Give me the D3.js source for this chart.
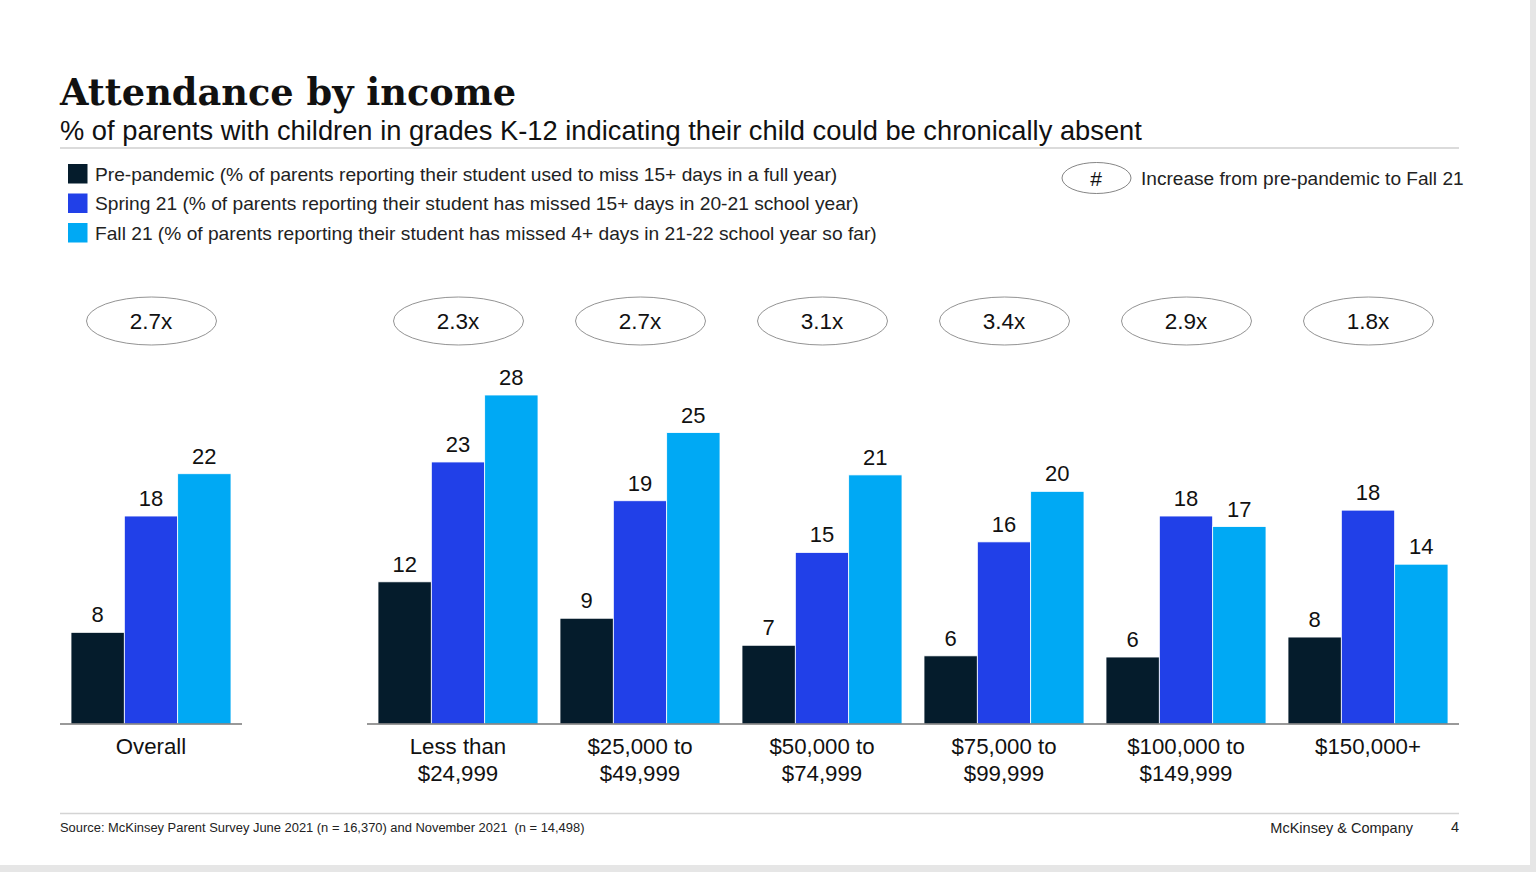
<!DOCTYPE html>
<html>
<head>
<meta charset="utf-8">
<title>Attendance by income</title>
<script src="https://d3js.org/d3.v7.min.js"></script>
<style>
    html, body { margin: 0; padding: 0; background: #e6e6e6; overflow: hidden; }
    svg { display: block; font-family: "Liberation Sans", Arial, sans-serif; fill: #111; }
</style>
</head>
<body>
<svg id="chart" width="1536" height="872"></svg>
<script>
const seriesNames = ["Pre-pandemic", "Spring 21", "Fall 21"];
const seriesColors = ["#051c2c", "#2140e8", "#00a9f4"];
const legendLabels = [
    "Pre-pandemic (% of parents reporting their student used to miss 15+ days in a full year)",
    "Spring 21 (% of parents reporting their student has missed 15+ days in 20-21 school year)",
    "Fall 21 (% of parents reporting their student has missed 4+ days in 21-22 school year so far)"
];

const overallCategory = [["Overall"]];
const incomeCategories = [
    ["Less than", "$24,999"],
    ["$25,000 to", "$49,999"],
    ["$50,000 to", "$74,999"],
    ["$75,000 to", "$99,999"],
    ["$100,000 to", "$149,999"],
    ["$150,000+"]
];

// bar heights, the printed labels are rounded differently in places
const overallValues = [[7.8, 17.7, 21.3]];
const incomeValues = [
    [12.1, 22.3, 28.0],
    [9.0, 19.0, 24.8],
    [6.7, 14.6, 21.2],
    [5.8, 15.5, 19.8],
    [5.7, 17.7, 16.8],
    [7.4, 18.2, 13.6]
];
const overallLabels = [[8, 18, 22]];
const incomeLabels = [
    [12, 23, 28],
    [9, 19, 25],
    [7, 15, 21],
    [6, 16, 20],
    [6, 18, 17],
    [8, 18, 14]
];
const overallIncrease = ["2.7x"];
const incomeIncrease = ["2.3x", "2.7x", "3.1x", "3.4x", "2.9x", "1.8x"];

const svg = d3.select("#chart");
const baseline = 724;

// slide background
svg.append("rect").attr("width", 1530).attr("height", 865).attr("fill", "#fff");

const y = d3.scaleLinear().domain([0, 30]).range([baseline, baseline - 352.5]);
const inner = d3.scaleBand().domain(d3.range(3)).range([-80, 80]);

// Title block
svg.append("text")
    .attr("x", 60).attr("y", 105)
    .attr("font-family", "'DejaVu Serif', Georgia, serif")
    .attr("font-weight", "bold")
    .attr("font-size", 38)
    .attr("textLength", 456)
    .attr("lengthAdjust", "spacingAndGlyphs")
    .text("Attendance by income");

svg.append("text")
    .attr("x", 60).attr("y", 140)
    .attr("font-size", 27.3)
    .text("% of parents with children in grades K-12 indicating their child could be chronically absent");

svg.append("line")
    .attr("x1", 60).attr("x2", 1459).attr("y1", 148).attr("y2", 148)
    .attr("stroke", "#cfcfcf").attr("stroke-width", 1.5);

// Legend
const legend = svg.selectAll(".legend")
    .data(legendLabels)
    .join("g")
    .attr("class", "legend")
    .attr("transform", (d, i) => `translate(68, ${164 + i * 29.5})`);

legend.append("rect")
    .attr("width", 19.5).attr("height", 19.5)
    .attr("fill", (d, i) => seriesColors[i]);

legend.append("text")
    .attr("x", 27).attr("y", 16.8)
    .attr("font-size", 19.18)
    .attr("fill", "#222")
    .text(d => d);

// Key for the ovals
svg.append("ellipse")
    .attr("cx", 1096.5).attr("cy", 178).attr("rx", 34.5).attr("ry", 15.5)
    .attr("fill", "#fff").attr("stroke", "#666").attr("stroke-width", 0.8);
svg.append("text")
    .attr("x", 1096).attr("y", 185.5)
    .attr("text-anchor", "middle").attr("font-size", 21)
    .text("#");
svg.append("text")
    .attr("x", 1141).attr("y", 185)
    .attr("font-size", 19.1)
    .attr("fill", "#222")
    .text("Increase from pre-pandemic to Fall 21");

// One panel of grouped bars
function drawPanel(categories, values, labels, increases, x0, x1) {
    const x = d3.scaleBand().domain(d3.range(categories.length)).range([x0, x1]);
    const g = svg.append("g");

    const groups = g.selectAll(".group")
        .data(categories)
        .join("g")
        .attr("class", "group")
        .attr("transform", (d, i) => `translate(${x(i) + x.bandwidth() / 2}, 0)`);

    groups.selectAll("rect")
        .data((d, i) => values[i])
        .join("rect")
        .attr("x", (d, j) => inner(j))
        .attr("y", d => y(d))
        .attr("width", inner.bandwidth())
        .attr("height", d => baseline - y(d))
        .attr("fill", (d, j) => seriesColors[j])
        .attr("stroke", "#fff")
        .attr("stroke-width", 0.8);

    groups.selectAll(".value")
        .data((d, i) => values[i].map((v, j) => ({ v: v, label: labels[i][j] })))
        .join("text")
        .attr("class", "value")
        .attr("x", (d, j) => inner(j) + inner.bandwidth() / 2)
        .attr("y", d => y(d.v) - 10)
        .attr("text-anchor", "middle")
        .attr("font-size", 22)
        .text(d => d.label);

    groups.append("ellipse")
        .attr("cx", 0.5).attr("cy", 321).attr("rx", 65).attr("ry", 24)
        .attr("fill", "#fff").attr("stroke", "#777").attr("stroke-width", 0.8);

    groups.append("text")
        .attr("y", 329)
        .attr("text-anchor", "middle")
        .attr("font-size", 22.5)
        .text((d, i) => increases[i]);

    groups.append("text")
        .attr("text-anchor", "middle")
        .attr("font-size", 22.25)
        .selectAll("tspan")
        .data(d => d)
        .join("tspan")
        .attr("x", 0)
        .attr("y", (d, j) => 754 + j * 27)
        .text(d => d);

    g.append("line")
        .attr("x1", x0).attr("x2", x1).attr("y1", baseline).attr("y2", baseline)
        .attr("stroke", "#777").attr("stroke-width", 1.5);
}

drawPanel(overallCategory, overallValues, overallLabels, overallIncrease, 60, 242);
drawPanel(incomeCategories, incomeValues, incomeLabels, incomeIncrease, 367, 1459);

// Footer
svg.append("line")
    .attr("x1", 60).attr("x2", 1459).attr("y1", 813.5).attr("y2", 813.5)
    .attr("stroke", "#d4d4d4").attr("stroke-width", 1.5);

svg.append("text")
    .attr("x", 60).attr("y", 832)
    .attr("font-size", 12.92)
    .attr("fill", "#222")
    .attr("xml:space", "preserve")
    .text("Source: McKinsey Parent Survey June 2021 (n = 16,370) and November 2021  (n = 14,498)");

svg.append("text")
    .attr("x", 1413).attr("y", 833)
    .attr("text-anchor", "end")
    .attr("font-size", 14.5)
    .attr("fill", "#222")
    .text("McKinsey & Company");

svg.append("text")
    .attr("x", 1459).attr("y", 832)
    .attr("text-anchor", "end")
    .attr("font-size", 14.5)
    .attr("fill", "#222")
    .text("4");
</script>
</body>
</html>
